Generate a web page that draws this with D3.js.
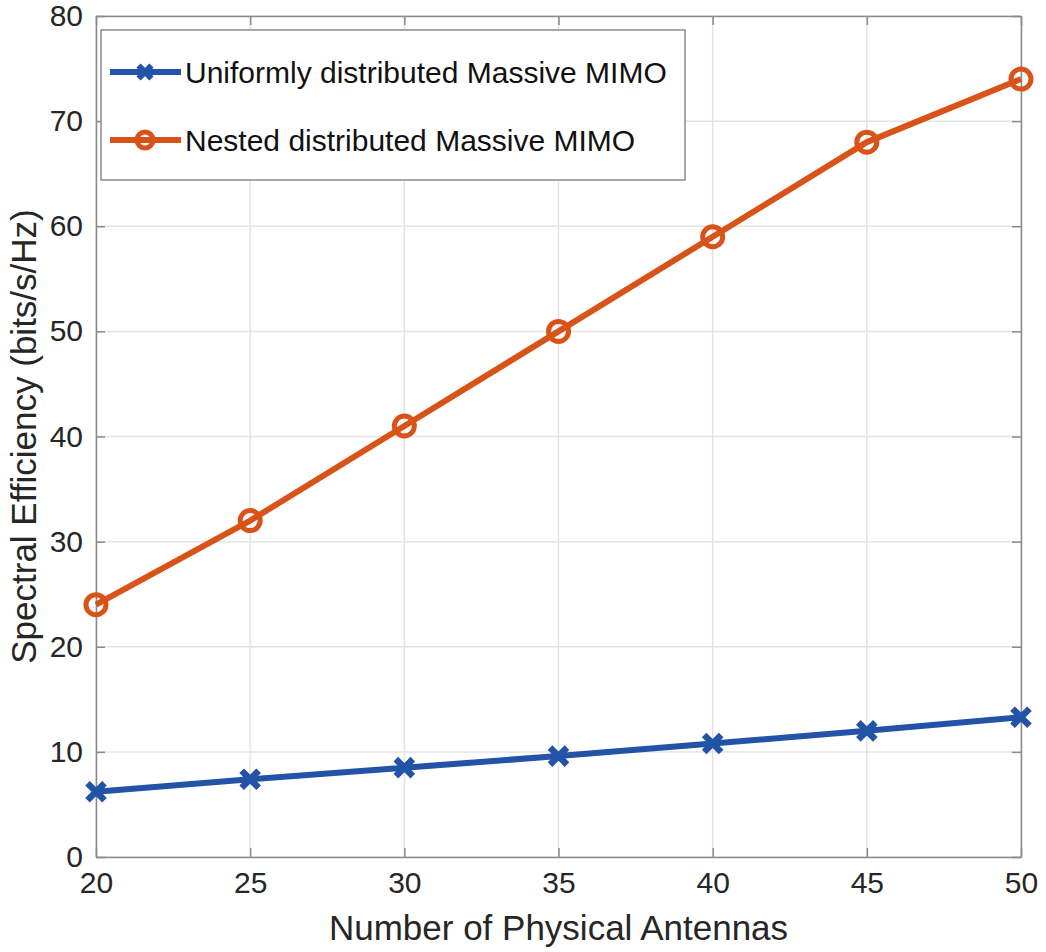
<!DOCTYPE html>
<html>
<head>
<meta charset="utf-8">
<script src="https://cdn.jsdelivr.net/npm/d3@7"></script>
<style>
  html, body { margin: 0; padding: 0; background: #fff; }
  svg { display: block; font-family: "Liberation Sans", Arial, Helvetica, sans-serif; }
</style>
</head>
<body>
<svg id="chart" width="1046" height="952"></svg>
<script>
// Number of physical antennas
const antennas = [20, 25, 30, 35, 40, 45, 50];
// Spectral efficiency (bits/s/Hz)
const uniformSE = [6.2, 7.4, 8.5, 9.6, 10.8, 12.0, 13.3];
const nestedSE  = [24, 32, 41, 50, 59, 68, 74];
const xTicks = [20, 25, 30, 35, 40, 45, 50];
const yTicks = [0, 10, 20, 30, 40, 50, 60, 70, 80];
const seriesNames = ["Uniformly distributed Massive MIMO", "Nested distributed Massive MIMO"];

const svg = d3.select("#chart");
const L = 96, R = 1021, T = 16, B = 857;
const x = d3.scaleLinear().domain([20, 50]).range([L, R]);
const y = d3.scaleLinear().domain([0, 80]).range([B, T]);

const blue = "#2353a7", orange = "#d95319";
const axisColor = "#8a8a8a", textColor = "#262626";

// grid
svg.append("g").selectAll("line").data(xTicks).join("line")
  .attr("x1", d => x(d)).attr("x2", d => x(d)).attr("y1", T).attr("y2", B)
  .attr("stroke", "#e3e3e3").attr("stroke-width", 1.5);
svg.append("g").selectAll("line").data(yTicks).join("line")
  .attr("y1", d => y(d)).attr("y2", d => y(d)).attr("x1", L).attr("x2", R)
  .attr("stroke", "#e3e3e3").attr("stroke-width", 1.5);

// axes with inward ticks on all four sides
const tk = 9;
const fmt = d3.format("d");
const xAxisB = d3.axisBottom(x).tickValues(xTicks).tickSizeInner(-tk).tickSizeOuter(0).tickPadding(15).tickFormat(fmt);
const xAxisT = d3.axisTop(x).tickValues(xTicks).tickSizeInner(-tk).tickSizeOuter(0).tickFormat("");
const yAxisL = d3.axisLeft(y).tickValues(yTicks).tickSizeInner(-tk).tickSizeOuter(0).tickPadding(13).tickFormat(fmt);
const yAxisR = d3.axisRight(y).tickValues(yTicks).tickSizeInner(-tk).tickSizeOuter(0).tickFormat("");

function styleAxis(g) {
  g.select(".domain").attr("stroke", axisColor).attr("stroke-width", 1.5);
  g.selectAll(".tick line").attr("stroke", axisColor).attr("stroke-width", 1.5);
  g.selectAll(".tick text").attr("fill", textColor).attr("font-size", 30)
    .attr("font-family", "'Liberation Sans', Arial, sans-serif");
}
svg.append("g").attr("transform", `translate(0,${B})`).call(xAxisB).call(styleAxis);
svg.append("g").attr("transform", `translate(0,${T})`).call(xAxisT).call(styleAxis);
svg.append("g").attr("transform", `translate(${L},0)`).call(yAxisL).call(styleAxis);
svg.append("g").attr("transform", `translate(${R},0)`).call(yAxisR).call(styleAxis);

// axis labels
svg.append("text").attr("x", (L + R) / 2).attr("y", 940)
  .attr("text-anchor", "middle").attr("font-size", 35).attr("fill", textColor)
  .text("Number of Physical Antennas");
svg.append("text").attr("transform", `translate(36,${(T + B) / 2}) rotate(-90)`)
  .attr("text-anchor", "middle").attr("font-size", 35).attr("fill", textColor)
  .text("Spectral Efficiency (bits/s/Hz)");

// lines
const line = d3.line().x(d => x(d[0])).y(d => y(d[1]));
const uniPts = antennas.map((a, i) => [a, uniformSE[i]]);
const nesPts = antennas.map((a, i) => [a, nestedSE[i]]);

svg.append("path").datum(uniPts).attr("d", line)
  .attr("fill", "none").attr("stroke", blue).attr("stroke-width", 6).attr("stroke-linejoin", "round");
svg.append("path").datum(nesPts).attr("d", line)
  .attr("fill", "none").attr("stroke", orange).attr("stroke-width", 6).attr("stroke-linejoin", "round");

function crossMark(g, cx, cy, s, w) {
  g.append("path")
    .attr("d", `M${cx - s},${cy - s}L${cx + s},${cy + s}M${cx - s},${cy + s}L${cx + s},${cy - s}`)
    .attr("stroke", blue).attr("stroke-width", w).attr("fill", "none");
}
function circleMark(g, cx, cy, r, w) {
  g.append("circle").attr("cx", cx).attr("cy", cy).attr("r", r)
    .attr("fill", "none").attr("stroke", orange).attr("stroke-width", w);
}

const mk = svg.append("g");
uniPts.forEach(p => crossMark(mk, x(p[0]), y(p[1]), 8.5, 6.5));
nesPts.forEach(p => circleMark(mk, x(p[0]), y(p[1]), 10, 5));

// legend
const lg = svg.append("g");
lg.append("rect").attr("x", 101).attr("y", 30).attr("width", 584).attr("height", 150)
  .attr("fill", "#fff").attr("stroke", axisColor).attr("stroke-width", 1.5);
const rows = [
  { name: seriesNames[0], color: blue, y: 72, mark: "x" },
  { name: seriesNames[1], color: orange, y: 140, mark: "o" }
];
rows.forEach(r => {
  lg.append("line").attr("x1", 110).attr("x2", 181).attr("y1", r.y).attr("y2", r.y)
    .attr("stroke", r.color).attr("stroke-width", 6);
  if (r.mark === "x") crossMark(lg, 145, r.y, 6.5, 6);
  else circleMark(lg, 145, r.y, 8, 5);
  lg.append("text").attr("x", 185).attr("y", r.y).attr("dy", "0.35em")
    .attr("font-size", 30).attr("fill", "#111").text(r.name);
});
</script>
</body>
</html>
